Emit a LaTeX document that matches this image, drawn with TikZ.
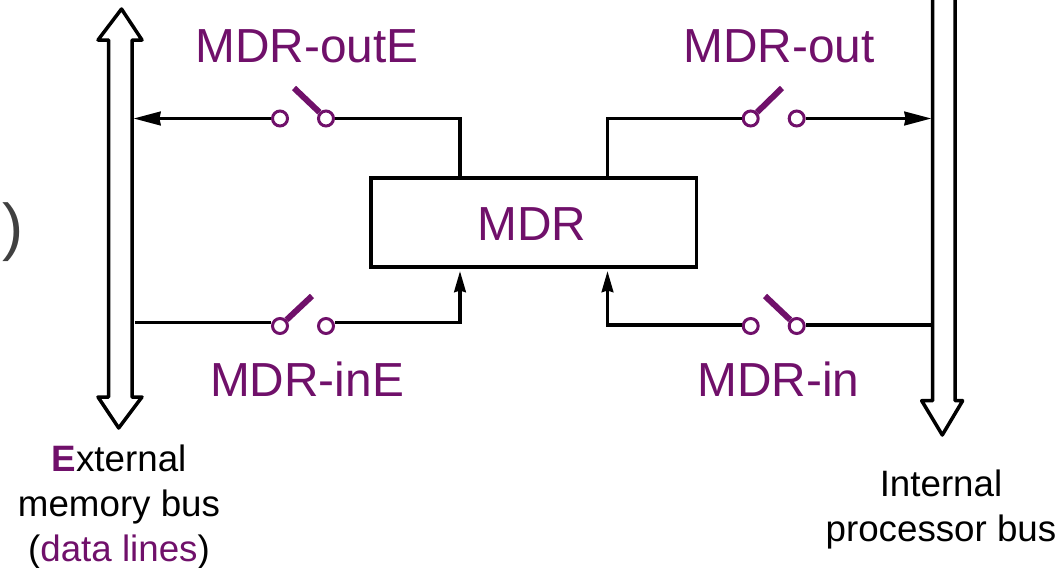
\documentclass[tikz,border=0pt]{standalone}
\usepackage{fontspec}
\setmainfont{Liberation Sans}
\usetikzlibrary{positioning}
\usetikzlibrary{arrows.meta}
\definecolor{mdrpurple}{HTML}{70106A}
\tikzset{node distance=0.92cm, % Gap between the two contacts of a switch
contact/.style={ % Small open circle of a switch
circle,
draw=mdrpurple,
fill=white,
line width=0.06cm,
minimum size=0.3cm,
inner sep=0pt},
blade/.style={ % Arm of a switch
draw=mdrpurple,
line width=0.12cm},
wire/.style={ % Black connection lines
draw,
line width=0.07cm},
busline/.style={ % Outline of the wide bus arrows
draw,
fill=white,
line join=round,
line width=0.07cm},
bigtip/.style={-{Stealth[length=0.54cm,width=0.27cm,inset=0.02cm]}},
smalltip/.style={-{Stealth[length=0.42cm,width=0.23cm,inset=0.03cm]}},
tag/.style={ % Purple switch names
text=mdrpurple,
font=\fontsize{27.2}{30}\selectfont,
inner sep=0pt},
busname/.style={ % Text below the buses
align=center,
inner sep=0pt,
font=\fontsize{20.9}{25.4}\selectfont}}

\begin{document}
\begin{tikzpicture}[x=0.02cm,y=-0.02cm]
    \useasboundingbox (0,0) rectangle (1063,568);
    % buses
    \draw[busline] (108.5,40) -- (98,40) -- (121.5,9) -- (142,40) -- (132,40) -- (132,397)
      -- (142,397) -- (118.7,428) -- (98,397) -- (108.5,397) -- cycle;
    \draw[busline] (932.7,0) -- (932.7,400.7) -- (921.7,400.7) -- (942.3,435)
      -- (962.7,400.7) -- (955,400.7) -- (955,0);
    \node[text=black!75, inner sep=0pt, font=\fontsize{36}{40}\selectfont] (brace) at (13,232) {)};
    % register
    \node[draw, line width=0.07cm, inner sep=0pt, minimum width=6.51cm, minimum height=1.78cm,
      tag] (mdr) at (533.7,222.5) {};
    \node[tag] (mdrName) at (532,224) {MDR};
    % switches
    \node[contact] (oeA) at (280,118.5) {};
    \node[contact, right of=oeA] (oeB) {};
    \node[contact] (oA) at (750.7,118.5) {};
    \node[contact, right of=oA] (oB) {};
    \node[contact] (ieA) at (280,326) {};
    \node[contact, right of=ieA] (ieB) {};
    \node[contact] (iA) at (750.7,326) {};
    \node[contact, right of=iA] (iB) {};
    % free ends
    \coordinate (oeTip) at (294,88);
    \coordinate (oTip) at (782,88);
    \coordinate (ieTip) at (312,296);
    \coordinate (iTip) at (765,296);
    \coordinate (extOut) at (133.5,118.5);
    \coordinate (intOut) at (931.5,118.5);
    \coordinate (extIn) at (135,322.3);
    \coordinate (intIn) at (932,325);
    \coordinate (mdrTL) at (460,178);
    \coordinate (mdrTR) at (607.5,178);
    \coordinate (mdrBL) at (460,271);
    \coordinate (mdrBR) at (607.5,271);
    % switch arms
    \draw[blade] (oeB) -- (oeTip);
    \draw[blade] (oA) -- (oTip);
    \draw[blade] (ieA) -- (ieTip);
    \draw[blade] (iB) -- (iTip);
    % wires
    \draw[wire, bigtip] (oeA) -- (extOut);
    \draw[wire] (mdrTL) |- (oeB);
    \draw[wire] (mdrTR) |- (oA);
    \draw[wire, bigtip] (oB) -- (intOut);
    \draw[wire] (extIn) -- (extIn -| ieA.west);
    \draw[wire, smalltip] (extIn -| ieB.east) -| (mdrBL);
    \draw[wire] (intIn) -- (intIn -| iB.east);
    \draw[wire, smalltip] (intIn -| iA.west) -| (mdrBR);
    % names
    \node[tag] (oeName) at (307,46.5) {MDR-outE};
    \node[tag] (oName) at (779,46.5) {MDR-out};
    \node[tag] (ieName) at (307,379) {MDR-inE};
    \node[tag] (iName) at (778.5,379) {MDR-in};
    \node[busname, anchor=north] (extName) at (119,445)
      {\textcolor{mdrpurple}{\textbf{E}}xternal\\memory bus\\(\textcolor{mdrpurple}{data lines})};
    \node[busname, anchor=north] (intName) at (941,470) {Internal\\processor bus};
\end{tikzpicture}
\end{document}
